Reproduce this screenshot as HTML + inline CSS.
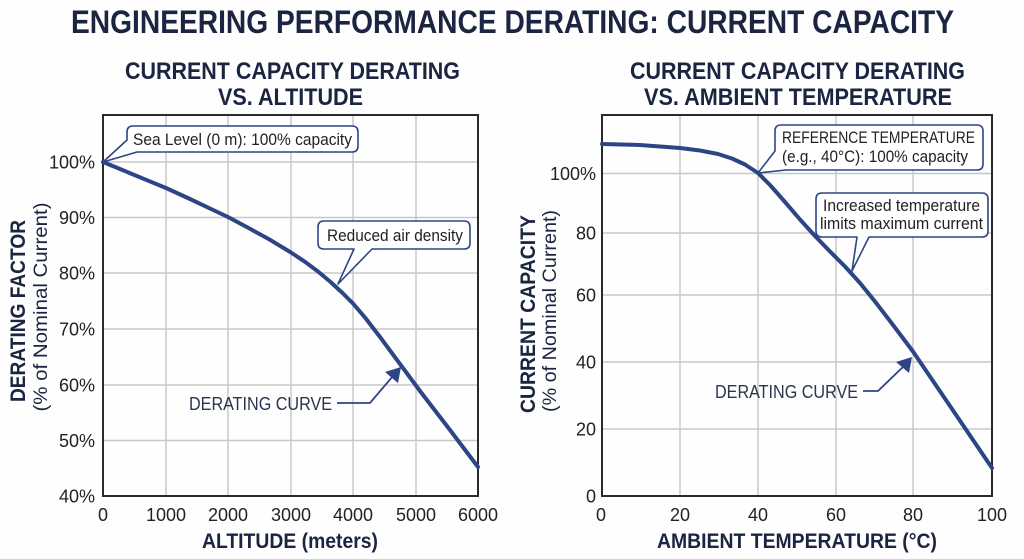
<!DOCTYPE html>
<html>
<head>
<meta charset="utf-8">
<style>
  html,body{margin:0;padding:0;background:#ffffff;}
  svg{display:block;}
  text{font-family:"Liberation Sans",sans-serif;}
</style>
</head>
<body>
<svg width="1024" height="559" viewBox="0 0 1024 559" xmlns="http://www.w3.org/2000/svg">
  <rect x="0" y="0" width="1024" height="559" fill="#fefefe"/>

  <!-- Main title -->
  <text x="71" y="33" font-size="32" font-weight="bold" fill="#1b2440" textLength="883" lengthAdjust="spacingAndGlyphs">ENGINEERING PERFORMANCE DERATING: CURRENT CAPACITY</text>

  <!-- Left subtitles -->
  <text x="125" y="79" font-size="24" font-weight="bold" fill="#1b2440" textLength="335" lengthAdjust="spacingAndGlyphs">CURRENT CAPACITY DERATING</text>
  <text x="218" y="105" font-size="24" font-weight="bold" fill="#1b2440" textLength="145" lengthAdjust="spacingAndGlyphs">VS. ALTITUDE</text>
  <!-- Right subtitles -->
  <text x="630" y="79" font-size="24" font-weight="bold" fill="#1b2440" textLength="335" lengthAdjust="spacingAndGlyphs">CURRENT CAPACITY DERATING</text>
  <text x="644" y="105" font-size="24" font-weight="bold" fill="#1b2440" textLength="308" lengthAdjust="spacingAndGlyphs">VS. AMBIENT TEMPERATURE</text>

  <!-- ================= LEFT CHART ================= -->
  <g stroke="#c8c8c8" stroke-width="1.5" fill="none">
    <line x1="166" y1="115" x2="166" y2="496"/>
    <line x1="228" y1="115" x2="228" y2="496"/>
    <line x1="291" y1="115" x2="291" y2="496"/>
    <line x1="353" y1="115" x2="353" y2="496"/>
    <line x1="416" y1="115" x2="416" y2="496"/>
    <line x1="103" y1="162" x2="478" y2="162"/>
    <line x1="103" y1="217.5" x2="478" y2="217.5"/>
    <line x1="103" y1="273" x2="478" y2="273"/>
    <line x1="103" y1="329" x2="478" y2="329"/>
    <line x1="103" y1="385" x2="478" y2="385"/>
    <line x1="103" y1="440.5" x2="478" y2="440.5"/>
  </g>
  <rect x="103" y="115" width="375" height="381" fill="none" stroke="#2a2a2a" stroke-width="2"/>

  <!-- left y ticks -->
  <g font-size="18" fill="#222" text-anchor="end">
    <text x="95" y="168.5">100%</text>
    <text x="95" y="224">90%</text>
    <text x="95" y="279.5">80%</text>
    <text x="95" y="335.5">70%</text>
    <text x="95" y="391.5">60%</text>
    <text x="95" y="447">50%</text>
    <text x="95" y="502.5">40%</text>
  </g>
  <!-- left x ticks -->
  <g font-size="18" fill="#222" text-anchor="middle">
    <text x="103" y="521">0</text>
    <text x="166" y="521">1000</text>
    <text x="228" y="521">2000</text>
    <text x="291" y="521">3000</text>
    <text x="353" y="521">4000</text>
    <text x="416" y="521">5000</text>
    <text x="478" y="521">6000</text>
  </g>
  <text x="202" y="548" font-size="21" font-weight="bold" fill="#1b2440" textLength="176" lengthAdjust="spacingAndGlyphs">ALTITUDE (meters)</text>

  <!-- left y axis title -->
  <text transform="translate(25,311) rotate(-90)" text-anchor="middle" font-size="21" font-weight="bold" fill="#1b2440" textLength="182" lengthAdjust="spacingAndGlyphs">DERATING FACTOR</text>
  <text transform="translate(47,307) rotate(-90)" text-anchor="middle" font-size="19" fill="#1b2440" textLength="209" lengthAdjust="spacingAndGlyphs">(% of Nominal Current)</text>

  <!-- left curve -->
  <polyline fill="none" stroke="#2c4584" stroke-width="4" stroke-linejoin="round" stroke-linecap="round"
    points="103,162 120,169 140,177.3 166,188 190,199 210,208.5 228,217 250,228.8 270,239.8 291,252.5 305,261.8 318,271.5 330,281.5 342,292.5 353,303.5 365,317.5 380,337 400,364 420,391 450,430 478,467"/>

  <!-- Sea Level callout -->
  <path d="M133,126 H352 Q358,126 358,132 V146 Q358,152 352,152 H137 L103,162 L127,140 V132 Q127,126 133,126 Z" fill="#ffffff" stroke="#2c4584" stroke-width="1.6" stroke-linejoin="round"/>
  <text x="133" y="145" font-size="17" fill="#222" textLength="219" lengthAdjust="spacingAndGlyphs">Sea Level (0 m): 100% capacity</text>

  <!-- Reduced air density callout -->
  <path d="M324,221 H464 Q470,221 470,227 V243 Q470,249 464,249 H372 L338,284 L354,249 H324 Q318,249 318,243 V227 Q318,221 324,221 Z" fill="#ffffff" stroke="#2c4584" stroke-width="1.6" stroke-linejoin="round"/>
  <text x="327" y="241" font-size="17" fill="#222" textLength="136" lengthAdjust="spacingAndGlyphs">Reduced air density</text>

  <!-- left derating curve label -->
  <text x="189" y="410" font-size="18" fill="#2a3550" textLength="143" lengthAdjust="spacingAndGlyphs">DERATING CURVE</text>
  <polyline points="337,403 370,403 393,376" fill="none" stroke="#2c4584" stroke-width="1.8"/>
  <polygon points="401,367 398,383 385,372" fill="#2c4584"/>

  <!-- ================= RIGHT CHART ================= -->
  <g stroke="#c8c8c8" stroke-width="1.5" fill="none">
    <line x1="680" y1="115" x2="680" y2="496"/>
    <line x1="758" y1="115" x2="758" y2="496"/>
    <line x1="836" y1="115" x2="836" y2="496"/>
    <line x1="913" y1="115" x2="913" y2="496"/>
    <line x1="602" y1="173.5" x2="992" y2="173.5"/>
    <line x1="602" y1="233" x2="992" y2="233"/>
    <line x1="602" y1="295" x2="992" y2="295"/>
    <line x1="602" y1="362" x2="992" y2="362"/>
    <line x1="602" y1="429" x2="992" y2="429"/>
  </g>
  <rect x="602" y="115" width="390" height="381" fill="none" stroke="#2a2a2a" stroke-width="2"/>

  <!-- right y ticks -->
  <g font-size="18" fill="#222" text-anchor="end">
    <text x="596" y="180">100%</text>
    <text x="596" y="239.5">80</text>
    <text x="596" y="301.5">60</text>
    <text x="596" y="368.5">40</text>
    <text x="596" y="435.5">20</text>
    <text x="596" y="502.5">0</text>
  </g>
  <!-- right x ticks -->
  <g font-size="18" fill="#222" text-anchor="middle">
    <text x="601" y="521">0</text>
    <text x="680" y="521">20</text>
    <text x="758" y="521">40</text>
    <text x="836" y="521">60</text>
    <text x="913" y="521">80</text>
    <text x="992" y="521">100</text>
  </g>
  <text x="657" y="548" font-size="21" font-weight="bold" fill="#1b2440" textLength="280" lengthAdjust="spacingAndGlyphs">AMBIENT TEMPERATURE (°C)</text>

  <!-- right y axis title -->
  <text transform="translate(535,314) rotate(-90)" text-anchor="middle" font-size="21" font-weight="bold" fill="#1b2440" textLength="198" lengthAdjust="spacingAndGlyphs">CURRENT CAPACITY</text>
  <text transform="translate(556,311) rotate(-90)" text-anchor="middle" font-size="19" fill="#1b2440" textLength="202" lengthAdjust="spacingAndGlyphs">(% of Nominal Current)</text>

  <!-- right curve -->
  <polyline fill="none" stroke="#2c4584" stroke-width="4" stroke-linejoin="round" stroke-linecap="round"
    points="602,144 640,145 680,148 700,150.5 718,154 732,158.5 745,164.5 758,173 770,185 785,202 800,219.5 815,236 830,251.5 845,266.5 860,283 875,301.5 890,321 913,351.5 950,406 992,468"/>

  <!-- Reference temperature callout -->
  <path d="M781,125 H977 Q983,125 983,131 V164 Q983,170 977,170 H786 L758,173 L775,151 V131 Q775,125 781,125 Z" fill="#ffffff" stroke="#2c4584" stroke-width="1.6" stroke-linejoin="round"/>
  <text x="782" y="143" font-size="17" fill="#222" textLength="193" lengthAdjust="spacingAndGlyphs">REFERENCE TEMPERATURE</text>
  <text x="782" y="162" font-size="17" fill="#222" textLength="186" lengthAdjust="spacingAndGlyphs">(e.g., 40°C): 100% capacity</text>

  <!-- Increased temperature callout -->
  <path d="M822,193 H982 Q988,193 988,199 V231 Q988,237 982,237 H869 L852,271 L857,237 H822 Q816,237 816,231 V199 Q816,193 822,193 Z" fill="#ffffff" stroke="#2c4584" stroke-width="1.6" stroke-linejoin="round"/>
  <text x="823" y="211" font-size="17" fill="#222" textLength="157" lengthAdjust="spacingAndGlyphs">Increased temperature</text>
  <text x="820" y="229" font-size="17" fill="#222" textLength="163" lengthAdjust="spacingAndGlyphs">limits maximum current</text>

  <!-- right derating curve label -->
  <text x="715" y="398" font-size="18" fill="#2a3550" textLength="143" lengthAdjust="spacingAndGlyphs">DERATING CURVE</text>
  <polyline points="863,391 878,391 904,366" fill="none" stroke="#2c4584" stroke-width="1.8"/>
  <polygon points="912,357 909,373 896,362" fill="#2c4584"/>
</svg>
</body>
</html>
